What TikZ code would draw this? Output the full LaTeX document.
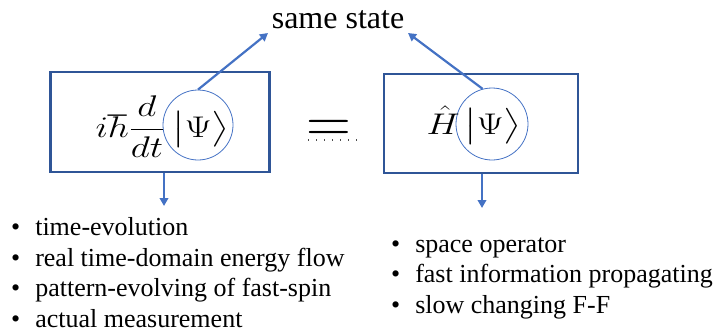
\documentclass[tikz,border=0pt]{standalone}
\usepackage{amsmath,amssymb}
\usepackage{graphicx}
\usepackage{fontspec}
\setmainfont{Liberation Serif}
\usepackage{xcolor}
\usetikzlibrary{arrows.meta}

\definecolor{boxblue}{HTML}{2F5597}
\definecolor{arrowblue}{HTML}{4472C4}

% stretched formula pieces (24.88pt math, scaled up)
\newcommand{\widemath}[1]{\scalebox{1.5}[1.2]{\Huge$\displaystyle #1$}}

\begin{document}
\begin{tikzpicture}[
    x=1pt, y=-1pt,
    eqbox/.style={draw=boxblue,line width=2.8pt,inner sep=0pt},
    psiring/.style={draw=arrowblue,line width=0.8pt,circle,minimum size=70pt,inner sep=0pt},
    mathtxt/.style={inner sep=0pt},
    bluearrow/.style={draw=arrowblue,line width=2.2pt,-{Triangle[length=8pt,width=8.5pt]}},
    bullettxt/.style={inner sep=0pt,anchor=base west,font=\fontsize{26}{31}\selectfont},
    eqdots/.style={draw=black!70,line width=1.2pt,dash pattern=on 1.2pt off 6.8pt}
  ]
    \useasboundingbox (0,0) rectangle (715,332);

    % the two sides
    \node[eqbox,minimum width=219pt,minimum height=100pt] (lbox) at (160,122) {};
    \node[eqbox,minimum width=194pt,minimum height=99pt] (rbox) at (481,123.5) {};

    \node[psiring] (lpsi) at (198,125) {};
    \node[psiring,minimum size=72pt] (rpsi) at (492,124) {};

    \node[mathtxt,anchor=base east] (lop) at (165,137) {\widemath{i\hbar\frac{d}{dt}}};
    \node[mathtxt,anchor=base] (lket) at (201,137) {\widemath{\bigl|\Psi\bigr\rangle}};
    \node[mathtxt,anchor=base east] (rop) at (460,134) {\widemath{\hat{H}}};
    \node[mathtxt,anchor=base] (rket) at (493,134) {\widemath{\bigl|\Psi\bigr\rangle}};

    % equals sign
    \node[mathtxt,anchor=base] (eq) at (329,142.5) {\scalebox{2.5}{\Huge$=$}};
    \draw[eqdots] (308,140) -- (357,140);

    % same state
    \node[mathtxt,anchor=base,font=\fontsize{32}{38}\selectfont] (same) at (338,28) {same state};
    \coordinate (sameL) at (268,33);
    \coordinate (sameR) at (408,33);
    \draw[bluearrow] (lpsi.north) -- (sameL);
    \draw[bluearrow] (rpsi.105) -- (sameR);

    % down to the lists
    \coordinate (ldown) at (164,206);
    \coordinate (rdown) at (482,208);
    \draw[bluearrow] (lbox.south -| ldown) -- (ldown);
    \draw[bluearrow] (rbox.south -| rdown) -- (rdown);

    % left list
    \node[bullettxt] (l1) at (11,235) {\textbullet\hspace{15pt}time-evolution};
    \node[bullettxt] (l2) at (11,266) {\textbullet\hspace{15pt}real time-domain energy flow};
    \node[bullettxt] (l3) at (11,296) {\textbullet\hspace{15pt}pattern-evolving of fast-spin};
    \node[bullettxt] (l4) at (11,327) {\textbullet\hspace{15pt}actual measurement};

    % right list
    \node[bullettxt] (r1) at (391,252) {\textbullet\hspace{15pt}space operator};
    \node[bullettxt] (r2) at (391,282) {\textbullet\hspace{15pt}fast information propagating};
    \node[bullettxt] (r3) at (391,313) {\textbullet\hspace{15pt}slow changing F-F};
\end{tikzpicture}
\end{document}
